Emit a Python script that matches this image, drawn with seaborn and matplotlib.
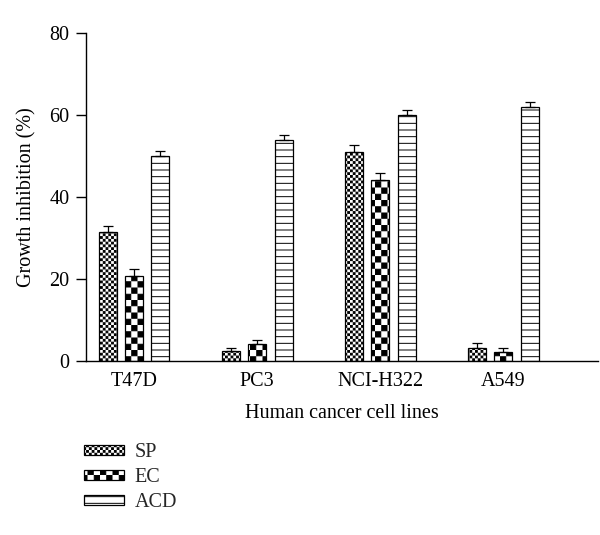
import numpy as np
import pandas as pd
import matplotlib
matplotlib.use("Agg")
import matplotlib.pyplot as plt
import matplotlib.hatch as mhatch
from matplotlib.path import Path
from matplotlib.patches import Patch
import seaborn as sns

# ---------------- data ----------------
cell_lines = ["T47D", "PC3", "NCI-H322", "A549"]
series = ["SP", "EC", "ACD"]
sp_values = [31.5, 2.4, 51.0, 3.2]
ec_values = [20.7, 4.1, 44.1, 2.3]
acd_values = [50.0, 54.0, 60.0, 62.0]
sp_err = [1.4, 0.8, 1.6, 1.2]
ec_err = [1.7, 1.1, 1.7, 0.9]
acd_err = [1.3, 1.2, 1.2, 1.2]
y_ticks = [0, 20, 40, 60, 80]

# ---------------- custom hatch patterns ----------------
HATCH_LW = 0.7  # points
DPI = 100
INSET = (HATCH_LW * DPI / 72.0) / 2.0 / DPI  # unit-cell fraction


class _Checker(mhatch.HatchPatternBase):
    char = "o"
    ncell = 36

    def __init__(self, hatch, density):
        self.n = self.ncell if self.char in hatch else 0
        self.num_vertices = 5 * (self.n * self.n // 2)

    def set_vertices_and_codes(self, vertices, codes):
        n = self.n
        s = 1.0 / n
        k = 0
        for i in range(n):
            for j in range(n):
                if (i + j) % 2:
                    continue
                x0, y0 = i * s + INSET, j * s + INSET
                x1, y1 = (i + 1) * s - INSET, (j + 1) * s - INSET
                vertices[k:k + 5] = [(x0, y0), (x1, y0), (x1, y1), (x0, y1), (x0, y0)]
                codes[k:k + 5] = [Path.MOVETO, Path.LINETO, Path.LINETO,
                                  Path.LINETO, Path.CLOSEPOLY]
                k += 5


class FineChecker(_Checker):
    char = "o"
    ncell = 36


class CoarseChecker(_Checker):
    char = "O"
    ncell = 16


class HLines(mhatch.HatchPatternBase):
    def __init__(self, hatch, density):
        self.n = 15 if "-" in hatch else 0
        self.num_vertices = 2 * self.n

    def set_vertices_and_codes(self, vertices, codes):
        for i in range(self.n):
            y = (i + 0.5) / self.n
            vertices[2 * i:2 * i + 2] = [(0.0, y), (1.0, y)]
            codes[2 * i:2 * i + 2] = [Path.MOVETO, Path.LINETO]


mhatch._hatch_types[:] = [FineChecker, CoarseChecker, HLines]

# ---------------- style ----------------
sns.set_theme(style="ticks")
plt.rcParams["font.family"] = ["Liberation Serif", "DejaVu Serif"]
plt.rcParams["hatch.linewidth"] = HATCH_LW
plt.rcParams["hatch.color"] = "black"

records = []
for s, vals in zip(series, [sp_values, ec_values, acd_values]):
    for c, v in zip(cell_lines, vals):
        records.append({"Cell line": c, "Extract": s, "Inhibition": v})
df = pd.DataFrame(records)

W, H = 600, 535
FS = 14.5
fig = plt.figure(figsize=(W / DPI, H / DPI), dpi=DPI)
ax = fig.add_axes([86 / W, (H - 361) / H, (598 - 86) / W, (361 - 33) / H])

sns.barplot(data=df, x="Cell line", y="Inhibition", hue="Extract",
            order=cell_lines, hue_order=series,
            palette={s: "white" for s in series},
            width=0.645, gap=0.32, errorbar=None,
            edgecolor="black", linewidth=0.9, legend=False, ax=ax)

hatches = ["o", "O", "-"]
errs = [sp_err, ec_err, acd_err]
for cont, h, e in zip(ax.containers, hatches, errs):
    xs, ys = [], []
    for bar in cont:
        bar.set_hatch(h)
        bar.set_edgecolor("black")
        xs.append(bar.get_x() + bar.get_width() / 2)
        ys.append(bar.get_height())
    ax.errorbar(xs, ys, yerr=[np.zeros(len(e)), e], fmt="none",
                ecolor="black", elinewidth=0.9, capsize=3.3, capthick=0.9,
                zorder=3)

ax.set_ylim(0, 80)
ax.set_xlim(-0.39, 3.77)
ax.set_yticks(y_ticks)
ax.set_yticklabels([str(t) for t in y_ticks])
for side in ["top", "right"]:
    ax.spines[side].set_visible(False)
for side in ["left", "bottom"]:
    ax.spines[side].set_linewidth(1.0)
    ax.spines[side].set_color("black")
ax.tick_params(axis="y", length=7, width=1.0, direction="out", pad=5,
               labelsize=FS, colors="black")
ax.tick_params(axis="x", length=0, pad=8, labelsize=FS, colors="black")
ax.set_xlabel("Human cancer cell lines", fontsize=FS, labelpad=9, color="black")
ax.set_ylabel("Growth inhibition (%)", fontsize=FS, labelpad=9, color="black")

handles = [Patch(facecolor="white", edgecolor="black", hatch=h, linewidth=0.9,
                 label=s) for h, s in zip(hatches, series)]
fig.legend(handles=handles, loc="upper left",
           bbox_to_anchor=(84 / W, 1 - 443 / H), frameon=False,
           handlelength=2.0, handleheight=0.35, handletextpad=0.5,
           labelspacing=0.3, fontsize=FS, borderpad=0, borderaxespad=0)

fig.savefig("out.png", dpi=DPI)
